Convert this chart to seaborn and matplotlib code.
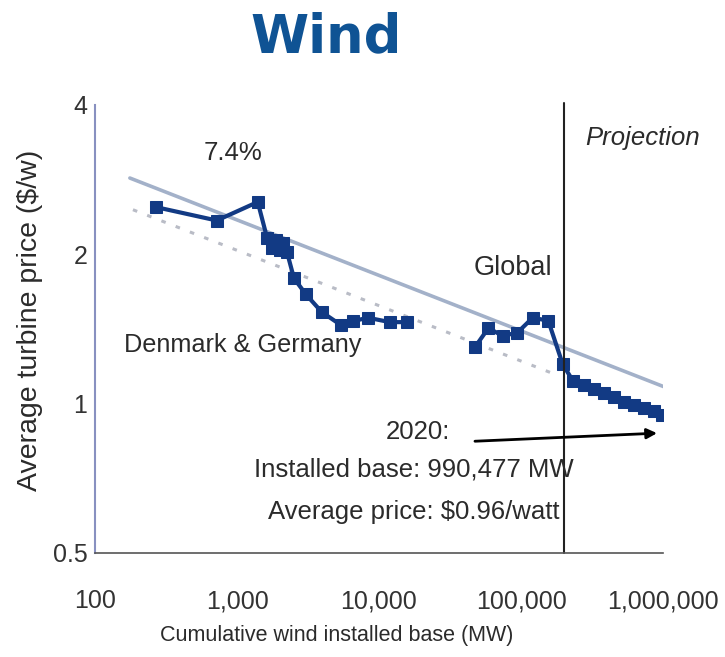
import matplotlib
matplotlib.use("Agg")
import matplotlib.pyplot as plt
import seaborn as sns
from matplotlib.ticker import NullLocator

# DATOS
dk_x = [269, 720, 1400, 1627, 1764, 1884, 2010, 2109, 2250, 2518, 3061, 3953,
        5400, 6560, 8370, 11940, 15740]
dk_y = [2.49, 2.34, 2.55, 2.16, 2.06, 2.14, 2.04, 2.11, 2.02, 1.79, 1.66, 1.53,
        1.44, 1.467, 1.49, 1.46, 1.46]

gl_x = [47400, 58900, 74300, 94200, 120800, 155600, 196800, 233000, 278000,
        327000, 384000, 452000, 531000, 625000, 735000, 864000, 990477]
gl_y = [1.30, 1.42, 1.37, 1.39, 1.49, 1.47, 1.20, 1.11, 1.09, 1.07, 1.05,
        1.03, 1.01, 0.995, 0.98, 0.965, 0.95]

trend_x = [176, 1030000]
trend_y = [2.85, 1.08]
fit_x = [185, 182000]
fit_y = [2.46, 1.14]

projection_start = 200000

x_ticks = [100, 1000, 10000, 100000, 1000000]
x_labels = ["100", "1,000", "10,000", "100,000", "1,000,000"]
y_ticks = [0.5, 1, 2, 4]
y_labels = ["0.5", "1", "2", "4"]

sns.set_style("white")
plt.rcParams["font.family"] = ["Liberation Sans", "DejaVu Sans"]

W, H = 725, 657
fig = plt.figure(figsize=(W / 100, H / 100), dpi=100)
ax = fig.add_axes([95 / W, 1 - 553 / H, (663 - 95) / W, (553 - 105) / H])

ax.set_xscale("log")
ax.set_yscale("log", base=2)

navy = "#123a84"

# LINEAS DE TENDENCIA
sns.lineplot(x=fit_x, y=fit_y, ax=ax, color="#b9bcc6", lw=2.2,
             linestyle=(0, (1.5, 3.5)), sort=False)
sns.lineplot(x=trend_x, y=trend_y, ax=ax, color="#a3b1c9", lw=2.6, sort=False)

# SERIES
sns.lineplot(x=dk_x, y=dk_y, ax=ax, color=navy, lw=3, marker="s",
             markersize=8, markeredgecolor=navy, sort=False)
sns.lineplot(x=gl_x, y=gl_y, ax=ax, color=navy, lw=3, marker="s",
             markersize=8, markeredgecolor=navy, sort=False)

ax.axvline(projection_start, color="#222222", lw=1.5, ymax=1.005, clip_on=False)

ax.annotate("", xy=(908000, 0.872), xytext=(47400, 0.84),
            arrowprops=dict(arrowstyle="-|>", color="black", lw=2,
                            mutation_scale=15, shrinkA=0, shrinkB=0))

# EJES
ax.set_xlim(100, 1000000)
ax.set_ylim(0.5, 4)
ax.set_xticks(x_ticks)
ax.set_xticklabels(x_labels)
ax.set_yticks(y_ticks)
ax.set_yticklabels(y_labels)
ax.xaxis.set_minor_locator(NullLocator())
ax.yaxis.set_minor_locator(NullLocator())

for s in ["top", "right"]:
    ax.spines[s].set_visible(False)
ax.spines["left"].set_color("#8890c0")
ax.spines["left"].set_linewidth(1.5)
ax.spines["bottom"].set_color("#555555")
ax.spines["bottom"].set_linewidth(1.2)

ax.tick_params(axis="y", direction="inout", length=9, width=2.2,
               color="#333a60", labelsize=18, pad=1, labelcolor="#333333")
ax.tick_params(axis="x", direction="out", length=7, width=1.2,
               color="#777777", labelsize=18, pad=19, labelcolor="#333333")

txt = "#2b2b2b"
fig.text(337 / W, 1 - 636 / H, "Cumulative wind installed base (MW)",
         ha="center", va="center", fontsize=15.5, color=txt)
fig.text(30 / W, 1 - 320 / H, "Average turbine price ($/w)", rotation=90,
         ha="center", va="center", fontsize=20.5, color=txt)

fig.text(326 / W, 1 - 37 / H, "Wind", ha="center", va="center",
         fontsize=38, fontweight="bold", color="#0f5394", family="DejaVu Sans")

fig.text(233 / W, 1 - 153 / H, "7.4%", ha="center", va="center", fontsize=18.5, color=txt)
fig.text(243 / W, 1 - 345 / H, "Denmark & Germany", ha="center", va="center", fontsize=18.2, color=txt)
fig.text(513 / W, 1 - 268 / H, "Global", ha="center", va="center", fontsize=19.5, color=txt)
fig.text(643 / W, 1 - 138 / H, "Projection", ha="center", va="center", fontsize=18.5,
         style="italic", color=txt)
fig.text(418 / W, 1 - 432 / H, "2020:", ha="center", va="center", fontsize=18.5, color=txt)
fig.text(414 / W, 1 - 470 / H, "Installed base: 990,477 MW", ha="center", va="center",
         fontsize=18.5, color=txt)
fig.text(414 / W, 1 - 512 / H, "Average price: $0.96/watt", ha="center", va="center",
         fontsize=18.5, color=txt)

fig.savefig("out.png", dpi=100)
